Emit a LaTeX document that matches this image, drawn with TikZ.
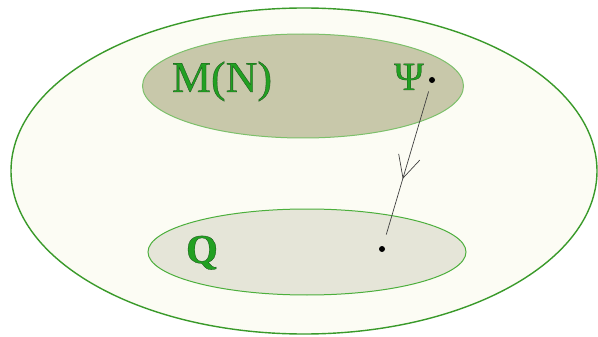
\documentclass[tikz,border=0pt]{standalone}
\usepackage{fontspec}
\setmainfont{Liberation Serif}
\usetikzlibrary{shapes.geometric,arrows.meta,decorations.markings}
\definecolor{outerfill}{HTML}{FCFCF4}
\definecolor{outerline}{HTML}{3A9A2A}
\definecolor{upfill}{HTML}{C8C8AA}
\definecolor{upline}{HTML}{7CC06A}
\definecolor{lowfill}{HTML}{E5E5D8}
\definecolor{lowline}{HTML}{4CAF3C}
\definecolor{tgreen}{HTML}{22A022}
\newcommand{\outl}[1]{\special{pdf:code q 2 Tr 0.3 w 0.1 0.3 0.1 RG}#1\special{pdf:code Q}}
\tikzset{
  region/.style={ellipse, inner sep=0pt, line width=1pt},
  lbl/.style={text=tgreen, anchor=base, inner sep=0pt},
  pt/.style={circle, fill=black, inner sep=0pt, minimum size=6pt},
  flow/.style={draw=black!75, line width=0.7pt,
    postaction={decorate},
    decoration={markings, mark=at position 0.585 with {\arrow{Straight Barb[length=22pt,width=22pt,line width=0.7pt]}}}}
}
\begin{document}
\begin{tikzpicture}[x=1pt,y=-1pt]
\useasboundingbox (0,0) rectangle (598,337);
\fill[white] (0,0) rectangle (598,337);
\node[region, draw=outerline, fill=outerfill, line width=1.4pt, minimum width=586pt, minimum height=326pt] (outer) at (304,171) {};
\node[region, draw=upline, fill=upfill, minimum width=321pt, minimum height=104pt] (mset) at (303,86) {};
\node[region, draw=lowline, fill=lowfill, minimum width=318pt, minimum height=86pt] (qset) at (307,252) {};
\node[lbl, font=\fontsize{44}{48}\selectfont] (mlabel) at (222,92) {\outl{M(N)}};
\node[lbl, font=\fontsize{40}{44}\selectfont] (psilabel) at (409,90) {\outl{Ψ}};
\node[lbl, font=\fontsize{41}{45}\selectfont\bfseries] (qlabel) at (202,263) {\outl{Q}};
\node[pt] (psi) at (432,80) {};
\node[pt] (q) at (382,249) {};
\draw[flow, shorten <=12pt, shorten >=15pt] (psi.center) -- (q.center);
\end{tikzpicture}
\end{document}
